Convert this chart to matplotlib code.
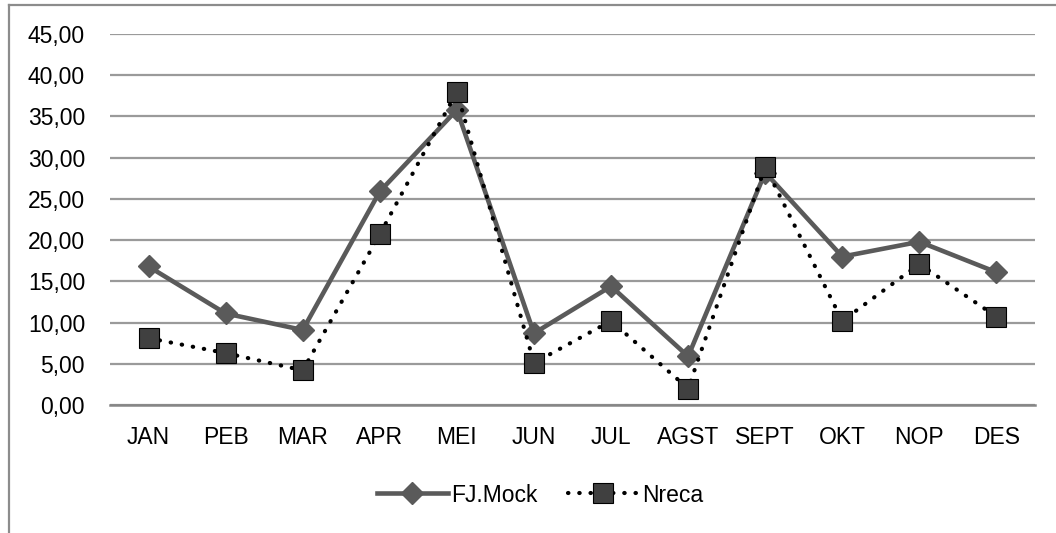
import matplotlib
matplotlib.use('Agg')
import matplotlib.pyplot as plt
from matplotlib.lines import Line2D
from matplotlib.ticker import FuncFormatter

months = ['JAN', 'PEB', 'MAR', 'APR', 'MEI', 'JUN', 'JUL', 'AGST', 'SEPT', 'OKT', 'NOP', 'DES']
fj_mock = [16.8, 11.1, 9.1, 25.9, 35.8, 8.7, 14.4, 5.9, 28.2, 18.0, 19.8, 16.1]
nreca = [8.1, 6.3, 4.2, 20.7, 38.0, 5.1, 10.2, 2.0, 28.9, 10.2, 17.1, 10.7]
yticks = [0, 5, 10, 15, 20, 25, 30, 35, 40, 45]

plt.rcParams['font.family'] = ['Liberation Sans', 'DejaVu Sans']
FS = 16.5

fig = plt.figure(figsize=(10.56, 5.33), dpi=100)
ax = fig.add_axes([110/1056, 1-405/533, (1035-110)/1056, (405-34)/533])

x = list(range(len(months)))

ax.plot(x, fj_mock, color='#5a5a5a', lw=3.3, marker='D', ms=11,
        mfc='#5a5a5a', mec='#5a5a5a', zorder=3, solid_joinstyle='miter')
ax.plot(x, nreca, color='black', lw=3.0, linestyle=(0, (0.1, 2.6)),
        dash_capstyle='round', zorder=4)
ax.plot(x, nreca, linestyle='none', marker='s', ms=14.5, mfc='#404040',
        mec='black', mew=0.8, zorder=5)

ax.set_xlim(-0.5, len(months) - 0.5)
ax.set_ylim(0, 45)
ax.set_yticks(yticks)
ax.yaxis.set_major_formatter(FuncFormatter(lambda v, p: '{:.2f}'.format(v).replace('.', ',')))
ax.set_xticks(x)
ax.set_xticklabels(months)
ax.tick_params(length=0, labelsize=FS, colors='black')
ax.tick_params(axis='y', pad=18)
ax.tick_params(axis='x', pad=15)
ax.grid(axis='y', color='#9a9a9a', lw=1.6)
ax.set_axisbelow(True)
for s in ['top', 'right', 'left']:
    ax.spines[s].set_visible(False)
ax.spines['bottom'].set_color('#868686')
ax.spines['bottom'].set_linewidth(1.8)

# outer chart border (only top and left visible, picture is cropped)
fig.add_artist(Line2D([9/1056, 1], [1-5/533, 1-5/533], color='#8c8c8c', lw=1.6))
fig.add_artist(Line2D([9/1056, 9/1056], [0, 1-5/533], color='#8c8c8c', lw=1.6))

h1 = Line2D([], [], color='#5a5a5a', lw=3.3, marker='D', ms=11, mfc='#5a5a5a', mec='#5a5a5a')
h2 = Line2D([], [], color='black', lw=3.0, linestyle=(0, (0.1, 2.6)), dash_capstyle='round',
            marker='s', ms=14.5, mfc='#404040', mec='black', mew=0.8)
fig.legend([h1, h2], ['FJ.Mock', 'Nreca'], loc='center', bbox_to_anchor=(540/1056, 1-495/533),
           ncol=2, frameon=False, fontsize=FS, handlelength=3.1, handletextpad=0.15,
           columnspacing=1.3)

fig.savefig('out.png', dpi=100)
